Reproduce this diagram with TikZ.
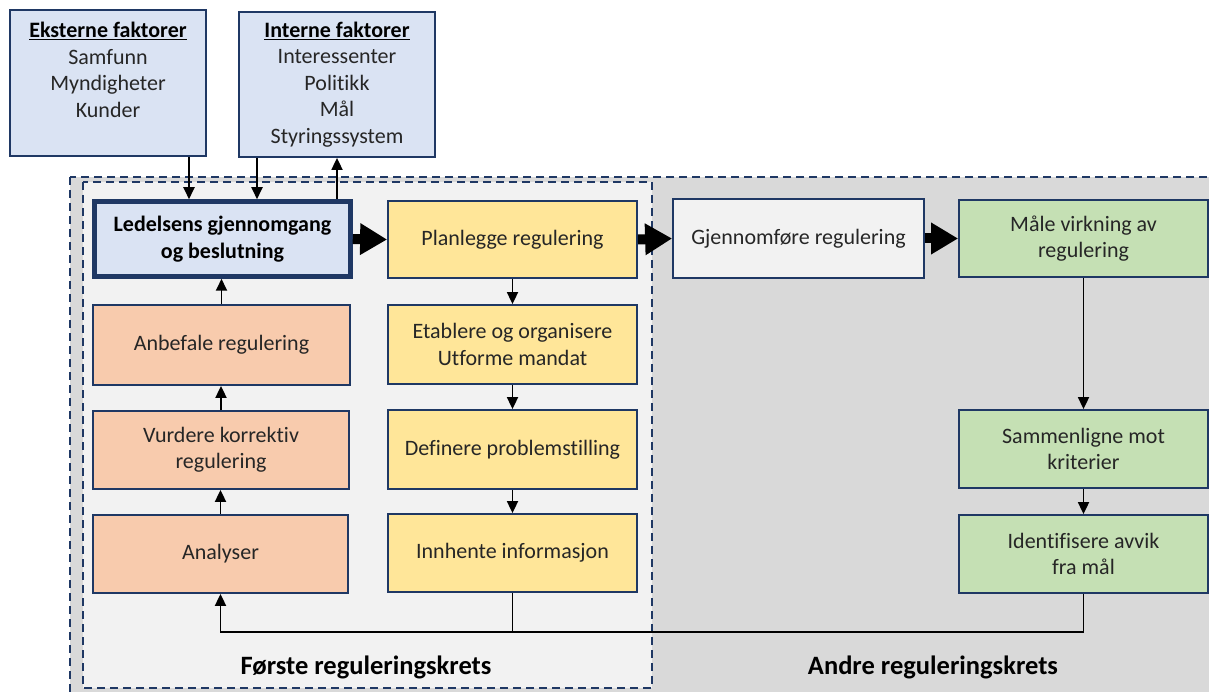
\documentclass[tikz,border=0pt]{standalone}
\usepackage{fontspec}
\setmainfont{Carlito}[Ligatures=NoCommon]
\usetikzlibrary{arrows.meta}
\definecolor{navy}{HTML}{1F3864}
\definecolor{txt}{HTML}{262626}
\definecolor{bluef}{HTML}{DAE3F3}
\definecolor{orf}{HTML}{F8CBAD}
\definecolor{yelf}{HTML}{FFE699}
\definecolor{grnf}{HTML}{C5E0B4}
\definecolor{lgray}{HTML}{F2F2F2}
\definecolor{dgray}{HTML}{D9D9D9}
\begin{document}
\begin{tikzpicture}[x=1pt,y=-1pt,
  box/.style={draw=navy, line width=1.8pt, inner sep=0pt, align=center, text=txt,
    font=\fontsize{22}{26.5}\selectfont},
  thinarrow/.style={-{Triangle[length=12pt,width=11pt]}, line width=1.8pt, black},
  thinline/.style={line width=1.8pt, black},
  bigarrow/.style={-{Triangle[length=27pt,width=30pt]}, line width=10pt, black},
  region/.style={draw=navy, line width=2pt, dash pattern=on 8pt off 5pt},
  lab/.style={inner sep=0pt, font=\fontsize{26.5}{30}\selectfont\bfseries, text=black}
]
\useasboundingbox (0,0) rectangle (1209,692);
\fill[white] (0,0) rectangle (1209,692);
\clip (0,0) rectangle (1209,692);

% regions
\draw[region, fill=dgray] (70,177) rectangle (1230,710);
\draw[region, fill=lgray] (83,182) rectangle (652,688);

% top factor boxes
\node[box, fill=bluef, minimum width=196pt, minimum height=146pt] (ext) at (108,83)
  {\textcolor{black}{\underline{\textbf{Eksterne faktorer}}}\\Samfunn\\Myndigheter\\Kunder\\\mbox{}};
\node[box, fill=bluef, minimum width=196pt, minimum height=145pt] (int) at (337,84.5)
  {\textcolor{black}{\underline{\textbf{Interne faktorer}}}\\Interessenter\\Politikk\\Mål\\Styringssystem};

% main row
\node[box, fill=bluef, line width=4.5pt, text=black, font=\fontsize{22}{26.5}\selectfont\bfseries,
  minimum width=256pt, minimum height=75pt] (led) at (222.5,239)
  {Ledelsens gjennomgang\\og beslutning};
\node[box, fill=yelf, minimum width=249pt, minimum height=77pt] (plan) at (512.5,239.5) {Planlegge regulering};
\node[box, fill=lgray, minimum width=251pt, minimum height=79pt] (gjen) at (798.5,238.5) {Gjennomføre regulering};
\node[box, fill=grnf, minimum width=249pt, minimum height=77pt] (maal) at (1083.5,238.5) {Måle virkning av\\regulering};

% left column
\node[box, fill=orf, minimum width=257pt, minimum height=80pt] (anb) at (221.5,345) {Anbefale regulering};
\node[box, fill=orf, minimum width=256pt, minimum height=78pt] (vur) at (221,450) {Vurdere korrektiv\\regulering};
\node[box, fill=orf, minimum width=255pt, minimum height=78pt] (ana) at (220.5,554) {Analyser};

% middle column
\node[box, fill=yelf, minimum width=249pt, minimum height=79pt] (etab) at (512.5,344.5) {Etablere og organisere\\Utforme mandat};
\node[box, fill=yelf, minimum width=249pt, minimum height=79pt] (def) at (512.5,449.5) {Definere problemstilling};
\node[box, fill=yelf, minimum width=249pt, minimum height=78pt] (inn) at (512.5,553) {Innhente informasjon};

% right column
\node[box, fill=grnf, minimum width=249pt, minimum height=78pt] (samm) at (1083.5,449) {Sammenligne mot\\kriterier};
\node[box, fill=grnf, minimum width=249pt, minimum height=78pt] (iden) at (1083.5,554) {Identifisere avvik\\fra mål};

% region labels
\node[lab] (l1) at (366,667) {Første reguleringskrets};
\node[lab] (l2) at (933,667) {Andre reguleringskrets};

% helper coordinates
\coordinate (cx1) at (189,0);
\coordinate (cx2) at (257,0);
\coordinate (fb) at (0,632);

% thin arrows top
\draw[thinarrow] (cx1 |- ext.south) -- (cx1 |- led.north);
\draw[thinarrow] (cx2 |- int.south) -- (cx2 |- led.north);
\draw[thinarrow] (int.south |- led.north) -- (int.south);

% left column arrows
\draw[thinarrow] (anb.north) -- (anb.north |- led.south);
\draw[thinarrow] (vur.north) -- (vur.north |- anb.south);
\draw[thinarrow] (ana.north) -- (ana.north |- vur.south);

% middle column arrows
\draw[thinarrow] (plan.south) -- (etab.north);
\draw[thinarrow] (etab.south) -- (def.north);
\draw[thinarrow] (def.south) -- (inn.north);

% right column arrows
\draw[thinarrow] (maal.south) -- (samm.north);
\draw[thinarrow] (samm.south) -- (iden.north);

% feedback
\draw[thinline] (iden.south) -- (iden.south |- fb) -- (inn.south |- fb);
\draw[thinarrow] (inn.south) -- (inn.south |- fb) -| (ana.south);

% big arrows
\draw[bigarrow] (led.east) -- (plan.west);
\draw[bigarrow] (plan.east) -- (gjen.west);
\draw[bigarrow] (gjen.east) -- (maal.west);
\end{tikzpicture}
\end{document}
